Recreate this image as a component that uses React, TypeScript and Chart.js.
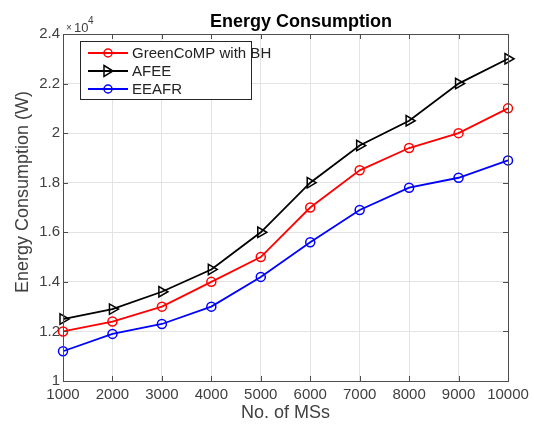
import React, { useEffect, useRef } from "react";
import { Chart, registerables } from "chart.js";

Chart.register(...registerables);

const xValues = [1000, 2000, 3000, 4000, 5000, 6000, 7000, 8000, 9000, 10000];
const greenCoMP = [1.2, 1.24, 1.3, 1.4, 1.5, 1.7, 1.85, 1.94, 2.0, 2.1];
const afee = [1.25, 1.29, 1.36, 1.45, 1.6, 1.8, 1.95, 2.05, 2.2, 2.3];
const eeafr = [1.12, 1.19, 1.23, 1.3, 1.42, 1.56, 1.69, 1.78, 1.82, 1.89];
const seriesNames = ["GreenCoMP with BH", "AFEE", "EEAFR"];
const seriesColors = ["#ff0000", "#000000", "#0000ff"];
const titleText = "Energy Consumption";
const xTitle = "No. of MSs";
const yTitle = "Energy Consumption (W)";

const W = 534;
const H = 424;
const FONT = "'Liberation Sans', Arial, sans-serif";
const AXIS = "#4d4d4d";

export default function App() {
  const ref = useRef<HTMLCanvasElement>(null);
  useEffect(() => {
    const canvas = ref.current!;
    const mk = (vals: number[]) => xValues.map((x, i) => ({ x, y: vals[i] }));
    const overlay = {
      id: "overlay",
      afterDraw(chart: any) {
        const ctx = chart.ctx;
        const a = chart.chartArea;
        const xs = chart.scales.x;
        const ys = chart.scales.y;
        ctx.save();
        // inner ticks
        ctx.strokeStyle = AXIS;
        ctx.lineWidth = 1;
        ctx.beginPath();
        for (const v of xValues) {
          const px = Math.round(xs.getPixelForValue(v)) + 0.5;
          ctx.moveTo(px, a.bottom);
          ctx.lineTo(px, a.bottom - 5);
          ctx.moveTo(px, a.top);
          ctx.lineTo(px, a.top + 5);
        }
        for (let v = 1; v <= 2.41; v += 0.2) {
          const py = Math.round(ys.getPixelForValue(v)) + 0.5;
          ctx.moveTo(a.left, py);
          ctx.lineTo(a.left + 5, py);
          ctx.moveTo(a.right, py);
          ctx.lineTo(a.right - 5, py);
        }
        ctx.stroke();
        // frame
        ctx.strokeStyle = AXIS;
        ctx.strokeRect(Math.round(a.left) + 0.5, Math.round(a.top) + 0.5, Math.round(a.right - a.left), Math.round(a.bottom - a.top));
        // title
        ctx.fillStyle = "#000";
        ctx.font = `bold 18px ${FONT}`;
        ctx.textAlign = "center";
        ctx.textBaseline = "alphabetic";
        ctx.fillText(titleText, 301, 27);
        // x title
        ctx.fillStyle = "#404040";
        ctx.font = `18px ${FONT}`;
        ctx.textBaseline = "middle";
        ctx.fillText(xTitle, (a.left + a.right) / 2, 413);
        // y title
        ctx.save();
        ctx.translate(23, 192);
        ctx.rotate(-Math.PI / 2);
        ctx.fillText(yTitle, 0, 0);
        ctx.restore();
        // exponent
        ctx.textAlign = "left";
        ctx.textBaseline = "alphabetic";
        ctx.fillStyle = "#404040";
        ctx.font = `10px ${FONT}`;
        ctx.fillText("\u00d7", 66, 31);
        ctx.font = `13px ${FONT}`;
        ctx.fillText("10", 74, 32);
        ctx.font = `10px ${FONT}`;
        ctx.fillText("4", 88, 24);
        // legend
        const lx = 80, ly = 41, lw = 171, lh = 58;
        ctx.fillStyle = "#fff";
        ctx.fillRect(lx, ly, lw, lh);
        ctx.strokeStyle = "#262626";
        ctx.lineWidth = 1;
        ctx.strokeRect(lx + 0.5, ly + 0.5, lw, lh);
        const rows = [53, 71, 89];
        ctx.font = `15px ${FONT}`;
        ctx.textBaseline = "middle";
        seriesNames.forEach((name, i) => {
          const y = rows[i];
          ctx.strokeStyle = seriesColors[i];
          ctx.lineWidth = 1.8;
          ctx.beginPath();
          ctx.moveTo(88, y);
          ctx.lineTo(128, y);
          ctx.stroke();
          ctx.lineWidth = 1.5;
          ctx.beginPath();
          if (i === 1) {
            ctx.moveTo(104, y - 5.5);
            ctx.lineTo(113, y);
            ctx.lineTo(104, y + 5.5);
            ctx.closePath();
          } else {
            ctx.arc(108, y, 4, 0, Math.PI * 2);
          }
          ctx.stroke();
          ctx.fillStyle = "#222";
          ctx.fillText(name, 132, y + 1);
        });
        ctx.restore();
      },
    };
    const ds = (label: string, vals: number[], color: string, tri: boolean) => ({
      label,
      data: mk(vals),
      borderColor: color,
      backgroundColor: "#ffffff",
      borderWidth: 1.8,
      pointStyle: tri ? "triangle" : "circle",
      rotation: tri ? 90 : 0,
      pointRadius: tri ? 6 : 4.5,
      pointBorderWidth: 1.5,
      pointBackgroundColor: "rgba(255,255,255,0)",
      pointBorderColor: color,
      tension: 0,
      clip: false as any,
    });
    const chart = new Chart(canvas, {
      type: "line",
      data: {
        datasets: [
          ds(seriesNames[0], greenCoMP, seriesColors[0], false),
          ds(seriesNames[1], afee, seriesColors[1], true),
          ds(seriesNames[2], eeafr, seriesColors[2], false),
        ],
      },
      options: {
        animation: false,
        responsive: false,
        devicePixelRatio: 1,
        layout: { padding: { top: 34, right: 26, left: 0, bottom: 0 } },
        plugins: { legend: { display: false }, title: { display: false }, tooltip: { enabled: false } },
        scales: {
          x: {
            type: "linear",
            min: 1000,
            max: 10000,
            border: { display: false },
            grid: { color: "#e3e3e3", drawTicks: false, lineWidth: 1 },
            ticks: {
              stepSize: 1000,
              padding: 5,
              color: "#404040",
              font: { family: FONT, size: 15 },
              maxRotation: 0,
              autoSkip: false,
              callback: (v: any) => String(v),
            },
            afterFit: (s: any) => { s.height = 43; },
          },
          y: {
            type: "linear",
            min: 1,
            max: 2.4,
            border: { display: false },
            grid: { color: "#e3e3e3", drawTicks: false, lineWidth: 1 },
            ticks: {
              stepSize: 0.2,
              padding: 3,
              color: "#404040",
              font: { family: FONT, size: 15 },
              callback: (v: any) => String(Number(Number(v).toFixed(1))),
            },
            afterFit: (s: any) => { s.width = 63; },
          },
        },
      },
      plugins: [overlay],
    });
    return () => chart.destroy();
  }, []);
  return (
    <div style={{ position: "absolute", left: 0, top: 0, width: W, height: H, background: "#fff" }}>
      <canvas ref={ref} width={W} height={H} style={{ width: W, height: H }} />
    </div>
  );
}
